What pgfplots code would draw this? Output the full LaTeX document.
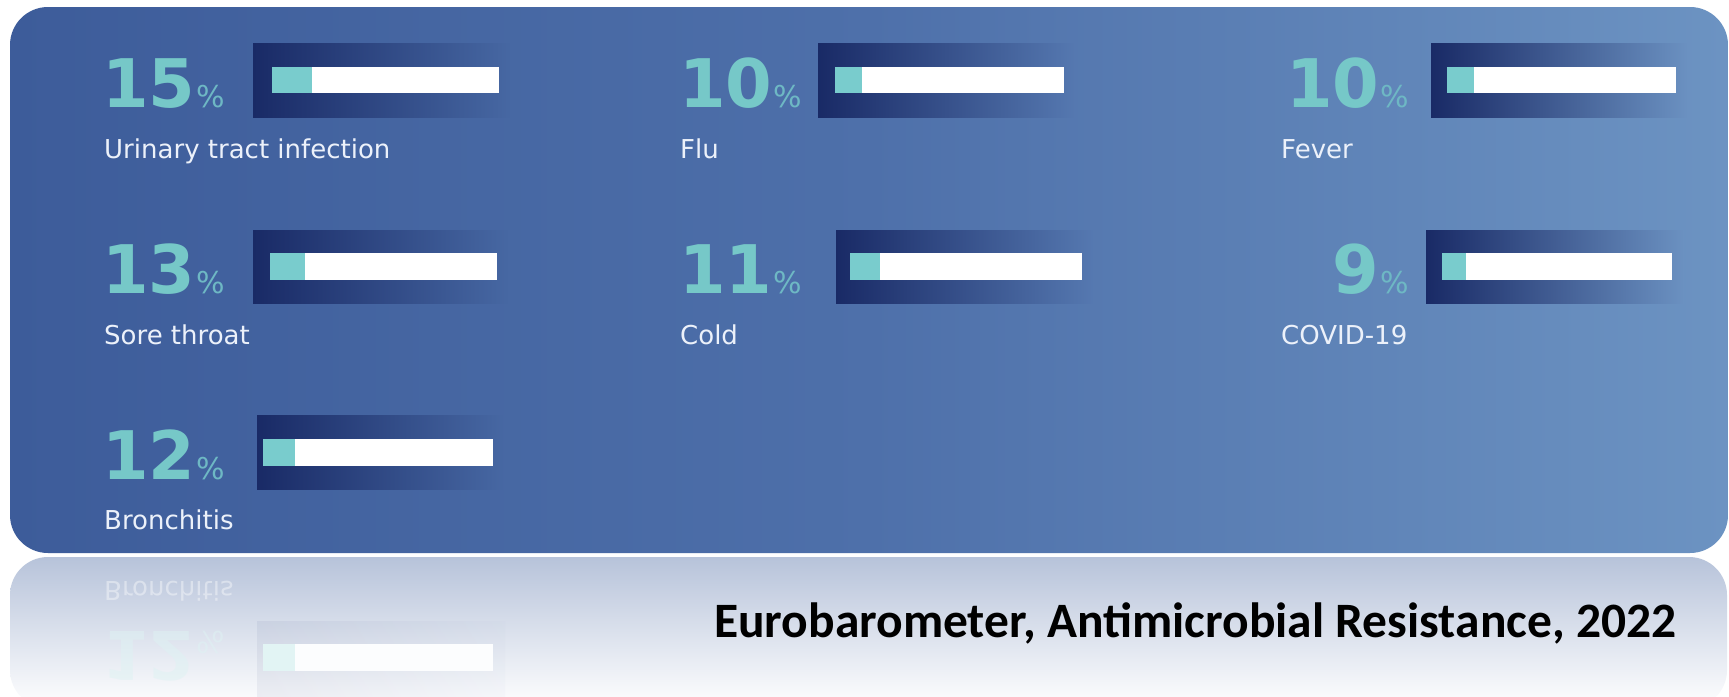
\documentclass[border=0pt]{standalone}
\usepackage{fontspec}
\setmainfont{DejaVu Sans}
\newfontfamily\titlefont{Carlito}
\usepackage{pgfplots}
\pgfplotsset{compat=1.18}

\definecolor{bgA}{RGB}{61,92,154}
\definecolor{bgB}{RGB}{78,112,170}
\definecolor{bgC}{RGB}{108,147,194}
\definecolor{navy}{RGB}{25,42,102}
\definecolor{navymid}{RGB}{44,68,132}
\definecolor{tealbar}{RGB}{121,204,205}
\definecolor{tealnum}{RGB}{118,200,200}
\definecolor{tealpct}{RGB}{110,184,196}
\definecolor{lbl}{RGB}{236,241,250}
\definecolor{refl}{RGB}{183,195,218}
\definecolor{bRa}{RGB}{71,104,163}
\definecolor{bRb}{RGB}{85,120,176}
\definecolor{bRc}{RGB}{107,145,193}

\pgfdeclarehorizontalshading{bgsh}{100bp}{color(0bp)=(bgA); color(25bp)=(bgA); color(50bp)=(bgB); color(75bp)=(bgC); color(100bp)=(bgC)}

\pgfplotsset{trk/.style={scale only axis, axis lines=none, xmin=0, xmax=85, ymin=0, ymax=1,
  anchor=south west, clip=false, xtick=\empty, ytick=\empty}}

% #1 x-left, #2 y-bottom (px from top), #3 width, #4 height, #5 value, #6 track colour, #7 bar colour
\newcommand\trackbar[7]{%
\begin{axis}[trk, at={(#1pt,-#2pt)}, width=#3pt, height=#4pt]
\addplot[xbar, bar width=1, bar shift=0pt, draw=none, fill=#6] coordinates {(85,0.5)};
\addplot[xbar, bar width=1, bar shift=0pt, draw=none, fill=#7] coordinates {(#5,0.5)};
\end{axis}}

% dark box behind a bar: #1 x-left, #2 top, #3 x-right, #4 bottom, #5 right colour
\newcommand\darkbox[5]{%
\shade[left color=navy, middle color=navymid, right color=#5] (#1,#2) rectangle (#3,#4);}

% number with percent: #1 right x, #2 baseline y, #3 number
\newcommand\pnum[3]{%
\node[anchor=base east, inner sep=0pt, text=tealnum] at (#1,#2)
  {\fontsize{67}{67}\selectfont\bfseries #3\kern1pt{\fontsize{30}{30}\selectfont\mdseries\color{tealpct}\%}};}

\newcommand\plabel[3]{%
\node[anchor=base west, inner sep=0pt, text=lbl] at (#1,#2)
  {\fontsize{26}{26}\selectfont #3};}

\begin{document}
\begin{tikzpicture}[x=1pt, y=-1pt]
\path[use as bounding box] (0,0) rectangle (1729,696);
\fill[white] (0,0) rectangle (1729,696);

% reflection area
\begin{scope}
\clip (0,0) rectangle (1729,696);
\shade[top color=refl, bottom color=white, rounded corners=38pt] (10,557) rectangle (1727,708);
\shade[left color=navy, right color=refl, opacity=0.06] (257,621) rectangle (505,696);
\node[yscale=-1, anchor=base west, inner sep=0pt, text=white, opacity=0.4] at (104,581)
  {\fontsize{26}{26}\selectfont Bronchitis};
\node[yscale=-1, anchor=base east, inner sep=0pt, text=tealbar!25!white, opacity=0.5] at (225,631)
  {\fontsize{67}{67}\selectfont\bfseries 12\kern1pt{\fontsize{30}{30}\selectfont\mdseries\%}};
\end{scope}
\trackbar{263}{671}{230}{27}{12}{white!96!refl}{tealbar!22!white}

% main panel
\shade[shading=bgsh, rounded corners=38pt] (10,7) rectangle (1728,553);

% dark boxes
\darkbox{253}{43}{512}{117}{bRa}
\darkbox{818}{43}{1075}{117}{bRb}
\darkbox{1431}{43}{1688}{117}{bRc}
\darkbox{253}{230}{510}{303}{bRa}
\darkbox{836}{230}{1092}{303}{bRb}
\darkbox{1426}{230}{1684}{303}{bRc}
\darkbox{257}{415}{505}{489}{bRa}

% bars (value in %, axis spans 0..85)
\trackbar{272}{93}{227}{26}{15}{white}{tealbar}
\trackbar{835}{93}{229}{26}{10}{white}{tealbar}
\trackbar{1447}{93}{229}{26}{10}{white}{tealbar}
\trackbar{270}{280}{227}{27}{13}{white}{tealbar}
\trackbar{850}{280}{232}{27}{11}{white}{tealbar}
\trackbar{1442}{280}{230}{27}{9}{white}{tealbar}
\trackbar{263}{466}{230}{27}{12}{white}{tealbar}

% numbers
\pnum{225}{107}{15}
\pnum{802}{107}{10}
\pnum{1409}{107}{10}
\pnum{225}{293}{13}
\pnum{802}{293}{11}
\pnum{1409}{293}{9}
\pnum{225}{479}{12}

% labels
\plabel{104}{158}{Urinary tract infection}
\plabel{680}{158}{Flu}
\plabel{1281}{158}{Fever}
\plabel{104}{344}{Sore throat}
\plabel{680}{344}{Cold}
\plabel{1281}{344}{COVID-19}
\plabel{104}{529}{Bronchitis}

% title
\node[anchor=base west, inner sep=0pt, text=black] at (714,637)
  {\titlefont\bfseries\fontsize{49.5}{49.5}\selectfont Eurobarometer, Antimicrobial Resistance, 2022};
\end{tikzpicture}
\end{document}
